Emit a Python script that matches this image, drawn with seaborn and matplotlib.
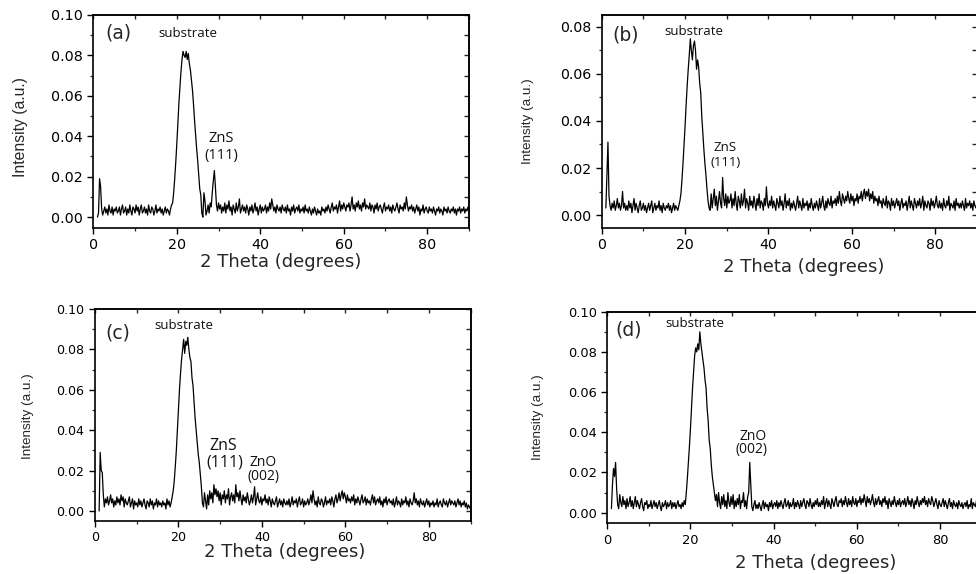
import numpy as np
import pandas as pd
import matplotlib
matplotlib.use("Agg")
import matplotlib.pyplot as plt
import seaborn as sns

# 2-theta sampling grid (degrees)
two_theta = np.arange(1.0, 90.001, 0.25)

# Diffracted intensity in milli a.u., one value per grid step (rows of 5 degrees)
intensity_a = [
    0, 2, 19, 15, 4, 1, 3, 5, 2, 4, 1, 6, 3, 2, 5, 1, 4, 3, 5, 2,
    3, 5, 1, 4, 6, 2, 3, 5, 1, 4, 2, 6, 3, 1, 5, 4, 2, 6, 3, 5,
    1, 4, 6, 2, 3, 5, 2, 4, 1, 6, 3, 2, 5, 4, 1, 3, 6, 2, 4, 3,
    5, 2, 4, 1, 3, 5, 2, 4, 3, 1, 4, 6, 7, 12, 19, 27, 36, 46, 56, 64,
    72, 78, 82, 80, 79, 82, 78, 81, 76, 73, 68, 63, 56, 48, 41, 34, 28, 21, 14, 11,
    2, 0, 12, 8, 1, 3, 6, 2, 7, 5, 12, 18, 23, 15, 6, 3, 7, 4, 6, 2,
    5, 3, 7, 2, 6, 4, 8, 3, 5, 1, 6, 4, 2, 7, 3, 5, 9, 2, 4, 6,
    3, 5, 2, 6, 4, 1, 5, 3, 6, 2, 4, 7, 3, 5, 1, 4, 6, 2, 5, 3,
    4, 6, 2, 5, 3, 7, 4, 9, 6, 3, 5, 2, 6, 4, 3, 5, 2, 6, 4, 3,
    5, 2, 6, 3, 4, 1, 5, 3, 6, 2, 4, 5, 3, 6, 2, 4, 3, 5, 2, 6,
    3, 4, 2, 5, 3, 1, 4, 2, 5, 3, 1, 4, 2, 3, 1, 5, 3, 4, 2, 5,
    3, 6, 4, 2, 5, 7, 3, 5, 4, 6, 2, 5, 8, 3, 6, 4, 7, 5, 3, 6,
    5, 7, 3, 6, 10, 4, 6, 3, 7, 5, 8, 4, 6, 3, 7, 5, 9, 4, 6, 5,
    4, 7, 3, 6, 5, 2, 6, 4, 7, 3, 5, 6, 4, 2, 5, 7, 3, 5, 4, 6,
    3, 5, 2, 6, 4, 3, 5, 7, 4, 2, 6, 4, 5, 3, 7, 4, 10, 6, 3, 5,
    4, 6, 3, 5, 2, 4, 6, 3, 5, 1, 4, 3, 6, 2, 4, 5, 3, 2, 5, 3,
    4, 2, 5, 3, 1, 4, 3, 5, 2, 4, 3, 1, 5, 3, 4, 2, 5, 3, 2, 4,
    3, 5, 2, 4, 1, 4, 3, 5, 2, 4, 3, 5, 2, 4, 3, 5, 4,
]

intensity_b = [
    3, 17, 31, 8, 4, 2, 5, 3, 6, 2, 4, 7, 3, 5, 2, 4, 10, 3, 5, 2,
    4, 2, 6, 3, 5, 1, 4, 7, 2, 5, 3, 1, 4, 6, 2, 3, 5, 2, 4, 1,
    3, 5, 2, 4, 6, 1, 3, 5, 2, 4, 3, 6, 2, 4, 1, 5, 3, 2, 4, 3,
    5, 2, 4, 1, 3, 5, 2, 4, 3, 2, 4, 6, 9, 15, 22, 30, 38, 47, 55, 62,
    68, 75, 70, 66, 72, 74, 70, 62, 66, 63, 56, 52, 42, 35, 28, 22, 17, 11, 6, 3,
    2, 9, 3, 7, 11, 4, 8, 2, 6, 10, 5, 3, 16, 7, 4, 9, 3, 8, 5, 6,
    9, 3, 7, 4, 10, 5, 2, 8, 6, 3, 9, 4, 6, 11, 3, 7, 5, 2, 8, 4,
    6, 3, 8, 5, 2, 7, 4, 9, 3, 6, 5, 2, 7, 4, 12, 5, 3, 6, 4, 8,
    3, 6, 4, 2, 7, 5, 3, 8, 4, 6, 2, 5, 9, 3, 6, 4, 7, 2, 5, 3,
    6, 4, 2, 5, 8, 3, 6, 4, 2, 7, 3, 5, 4, 6, 2, 5, 3, 7, 4, 2,
    5, 3, 6, 4, 2, 7, 3, 5, 8, 4, 2, 6, 3, 7, 5, 4, 8, 3, 6, 5,
    7, 4, 8, 5, 10, 6, 4, 9, 7, 5, 8, 6, 10, 7, 5, 9, 6, 8, 4, 7,
    6, 9, 5, 8, 7, 10, 6, 9, 11, 7, 10, 8, 11, 6, 9, 7, 10, 5, 8, 6,
    7, 4, 8, 5, 6, 3, 7, 5, 4, 8, 3, 6, 5, 2, 7, 4, 6, 3, 5, 7,
    4, 6, 2, 5, 7, 3, 5, 4, 6, 2, 5, 8, 3, 6, 4, 2, 7, 5, 3, 6,
    4, 7, 3, 5, 8, 2, 6, 4, 3, 6, 5, 2, 7, 4, 6, 3, 5, 8, 4, 3,
    6, 3, 5, 2, 7, 4, 3, 6, 4, 8, 2, 5, 4, 3, 6, 2, 7, 4, 5, 3,
    5, 3, 6, 4, 2, 7, 3, 5, 4, 6, 3, 5, 2, 6, 4, 3, 5,
]

intensity_c = [
    0, 29, 20, 19, 8, 2, 6, 4, 7, 3, 5, 8, 4, 6, 2, 5, 3, 7, 4, 6,
    3, 8, 5, 7, 2, 6, 4, 3, 5, 7, 2, 4, 6, 1, 5, 3, 4, 2, 6, 3,
    5, 2, 4, 6, 3, 1, 5, 4, 2, 6, 3, 5, 1, 4, 3, 6, 2, 5, 3, 4,
    2, 5, 3, 4, 1, 6, 3, 5, 2, 4, 7, 10, 15, 22, 30, 40, 50, 60, 68, 75,
    80, 85, 78, 84, 82, 86, 80, 76, 74, 66, 62, 54, 46, 40, 34, 28, 24, 18, 12, 4,
    2, 9, 5, 1, 8, 3, 10, 6, 9, 4, 13, 8, 11, 7, 10, 5, 9, 3, 8, 6,
    10, 4, 8, 6, 11, 3, 7, 9, 5, 8, 4, 13, 7, 9, 5, 10, 6, 3, 8, 5,
    7, 4, 9, 6, 3, 5, 8, 4, 7, 12, 3, 6, 9, 5, 4, 7, 3, 6, 5, 8,
    4, 6, 3, 7, 5, 2, 6, 4, 3, 5, 7, 2, 4, 6, 3, 5, 2, 6, 4, 3,
    5, 3, 6, 2, 4, 7, 3, 5, 4, 6, 2, 5, 7, 3, 4, 6, 2, 5, 3, 4,
    6, 3, 5, 8, 4, 10, 6, 3, 5, 2, 7, 4, 3, 6, 5, 2, 4, 7, 3, 5,
    4, 6, 3, 7, 5, 2, 6, 8, 4, 6, 9, 5, 8, 10, 6, 9, 7, 4, 8, 5,
    6, 4, 7, 5, 8, 3, 6, 4, 7, 5, 3, 6, 8, 4, 5, 7, 3, 6, 4, 5,
    3, 6, 8, 4, 7, 3, 5, 6, 4, 7, 3, 5, 2, 6, 4, 7, 3, 5, 6, 4,
    5, 3, 6, 2, 4, 7, 3, 5, 4, 2, 6, 3, 5, 4, 7, 3, 5, 2, 6, 4,
    3, 5, 9, 4, 6, 3, 5, 2, 6, 4, 3, 5, 2, 4, 6, 3, 5, 2, 4, 3,
    5, 2, 4, 3, 6, 2, 4, 5, 3, 2, 6, 4, 3, 5, 2, 4, 6, 3, 5, 4,
    3, 5, 2, 4, 6, 3, 5, 2, 4, 3, 5, 2, 4, 1, 3, 2, 1,
]

intensity_d = [
    2, 14, 22, 18, 25, 12, 4, 2, 9, 5, 3, 8, 4, 6, 2, 7, 3, 5, 8, 3,
    6, 2, 5, 8, 3, 6, 4, 2, 5, 7, 3, 1, 5, 4, 6, 2, 4, 3, 6, 2,
    4, 6, 3, 5, 2, 4, 6, 3, 1, 5, 3, 4, 6, 2, 5, 3, 4, 6, 2, 5,
    3, 5, 2, 4, 6, 3, 4, 2, 5, 3, 6, 4, 10, 17, 25, 33, 42, 52, 62, 70,
    78, 82, 80, 84, 81, 90, 84, 80, 76, 72, 66, 62, 52, 46, 36, 32, 24, 18, 14, 10,
    6, 9, 3, 10, 5, 2, 8, 4, 9, 3, 6, 2, 10, 5, 3, 8, 4, 9, 2, 6,
    3, 7, 4, 9, 2, 6, 5, 10, 3, 6, 2, 8, 10, 25, 14, 3, 1, 4, 6, 2,
    4, 2, 5, 3, 1, 4, 6, 2, 5, 3, 4, 1, 5, 3, 6, 2, 4, 5, 3, 6,
    2, 5, 3, 6, 4, 2, 5, 7, 3, 4, 6, 2, 5, 3, 4, 7, 2, 5, 3, 6,
    4, 2, 6, 3, 5, 7, 4, 2, 6, 5, 3, 7, 4, 2, 5, 3, 6, 4, 7, 3,
    5, 3, 6, 4, 8, 2, 5, 7, 3, 6, 4, 2, 7, 5, 3, 6, 8, 4, 3, 6,
    5, 7, 3, 6, 4, 8, 5, 3, 7, 4, 6, 3, 8, 5, 4, 7, 3, 6, 5, 8,
    4, 7, 5, 9, 6, 3, 8, 5, 7, 4, 6, 9, 5, 3, 7, 4, 6, 8, 4, 6,
    3, 7, 5, 8, 4, 6, 2, 7, 5, 3, 6, 4, 8, 5, 3, 6, 4, 7, 3, 5,
    6, 4, 7, 3, 5, 8, 4, 6, 3, 7, 5, 2, 6, 4, 8, 5, 3, 6, 4, 7,
    5, 8, 4, 6, 3, 7, 5, 4, 8, 6, 3, 5, 7, 4, 2, 6, 4, 3, 5, 7,
    3, 6, 4, 2, 5, 7, 3, 5, 2, 6, 4, 3, 5, 2, 6, 4, 3, 5, 2, 4,
    5, 3, 6, 2, 4, 3, 7, 2, 5, 4, 3, 6, 2, 8, 3, 2, 4,
]

panel_letters = ["(a)", "(b)", "(c)", "(d)"]
x_label = "2 Theta (degrees)"
y_label = "Intensity (a.u.)"

# Peak annotations per panel: (text, x, y, size)
peak_labels = [
    [("substrate", 22.75, 0.0909, 9.5), ("ZnS", 30.6, 0.0390, 10.5),
     ("(111)", 30.75, 0.0307, 10.5)],
    [("substrate", 22.0, 0.0780, 9.5), ("ZnS", 29.6, 0.0286, 9.5),
     ("(111)", 29.6, 0.0223, 9.5)],
    [("substrate", 21.2, 0.0916, 9.5), ("ZnS", 30.8, 0.0322, 11.5),
     ("(111)", 31.2, 0.0239, 11.5), ("ZnO", 40.4, 0.0239, 10.0),
     ("(002)", 40.4, 0.0173, 10.0)],
    [("substrate", 21.1, 0.0942, 9.5), ("ZnO", 35.1, 0.0378, 10.0),
     ("(002)", 34.7, 0.0312, 10.0)],
]

# Layout of each panel
layout = [
    dict(rect=[0.0956, 0.6028, 0.3849, 0.3711], ylim=(-0.0054, 0.100), ytop=0.10,
         tick_size=10.3, ylab_size=11.3, ylab_pos=(-0.195, 0.474),
         xlab_pos=(0.50, -0.158), letter_pos=(0.066, 0.915)),
    dict(rect=[0.6165, 0.6033, 0.3845, 0.3706], ylim=(-0.0054, 0.0851), ytop=0.08,
         tick_size=10.2, ylab_size=9.7, ylab_pos=(-0.196, 0.50),
         xlab_pos=(0.537, -0.183), letter_pos=(0.064, 0.906)),
    dict(rect=[0.0973, 0.0929, 0.3848, 0.3688], ylim=(-0.0048, 0.100), ytop=0.10,
         tick_size=9.1, ylab_size=9.7, ylab_pos=(-0.178, 0.495),
         xlab_pos=(0.506, -0.146), letter_pos=(0.060, 0.885)),
    dict(rect=[0.6222, 0.0883, 0.3836, 0.3687], ylim=(-0.0053, 0.100), ytop=0.10,
         tick_size=9.4, ylab_size=9.7, ylab_pos=(-0.185, 0.50),
         xlab_pos=(0.557, -0.189), letter_pos=(0.058, 0.913)),
]

sns.set_theme(style="ticks")
plt.rcParams["font.family"] = ["DejaVu Sans"]
plt.rcParams["axes.linewidth"] = 1.2

fig = plt.figure(figsize=(9.76, 5.74), dpi=100)
fig.patch.set_facecolor("white")

series = [intensity_a, intensity_b, intensity_c, intensity_d]

for values, letter, notes, cfg in zip(series, panel_letters, peak_labels, layout):
    if len(values) != len(two_theta):
        raise ValueError(f"{letter}: {len(values)} values for {len(two_theta)} angles")
    df = pd.DataFrame({"two_theta": two_theta,
                       "intensity": np.asarray(values, dtype=float) * 1e-3})
    ax = fig.add_axes(cfg["rect"])
    ax.set_facecolor("white")
    sns.lineplot(data=df, x="two_theta", y="intensity", ax=ax, color="black",
                 linewidth=0.9, estimator=None, sort=False)

    ax.set_xlim(0, 90)
    ax.set_ylim(*cfg["ylim"])
    ax.set_xticks([0, 20, 40, 60, 80])
    ax.set_xticks([10, 30, 50, 70, 90], minor=True)
    ax.set_yticks(np.arange(0, cfg["ytop"] + 1e-9, 0.02))
    ax.set_yticks(np.arange(0.01, cfg["ytop"] + 1e-9, 0.02), minor=True)
    ax.yaxis.set_major_formatter("{x:.2f}")
    ax.tick_params(which="major", direction="out", length=4.5, width=1.0,
                   labelsize=cfg["tick_size"], colors="black", pad=3)
    ax.tick_params(which="minor", direction="out", length=2.5, width=0.9)
    for sp in ax.spines.values():
        sp.set_visible(True)
        sp.set_linewidth(1.2)
        sp.set_color("black")

    # Inward ticks on the mirrored top and right edges
    top = ax.secondary_xaxis("top")
    top.set_xticks(np.arange(0, 91, 10))
    top.tick_params(direction="in", length=3, width=1.0, labeltop=False)
    right = ax.secondary_yaxis("right")
    right.set_yticks(np.arange(0, cfg["ytop"] + 1e-9, 0.01))
    right.tick_params(direction="in", length=3.5, width=1.0, labelright=False)

    ax.set_xlabel(x_label, fontsize=13, family="DejaVu Sans", va="center")
    ax.xaxis.set_label_coords(*cfg["xlab_pos"])
    ax.set_ylabel(y_label, fontsize=cfg["ylab_size"], family="Liberation Sans",
                  va="center")
    ax.yaxis.set_label_coords(*cfg["ylab_pos"])

    ax.text(*cfg["letter_pos"], letter, transform=ax.transAxes, fontsize=13.5,
            ha="center", va="center", family="DejaVu Sans")
    for text, x, y, size in notes:
        ax.text(x, y, text, fontsize=size, ha="center", va="center",
                family="Open Sans", color="#111111")

fig.savefig("out.png", dpi=100, facecolor="white")
